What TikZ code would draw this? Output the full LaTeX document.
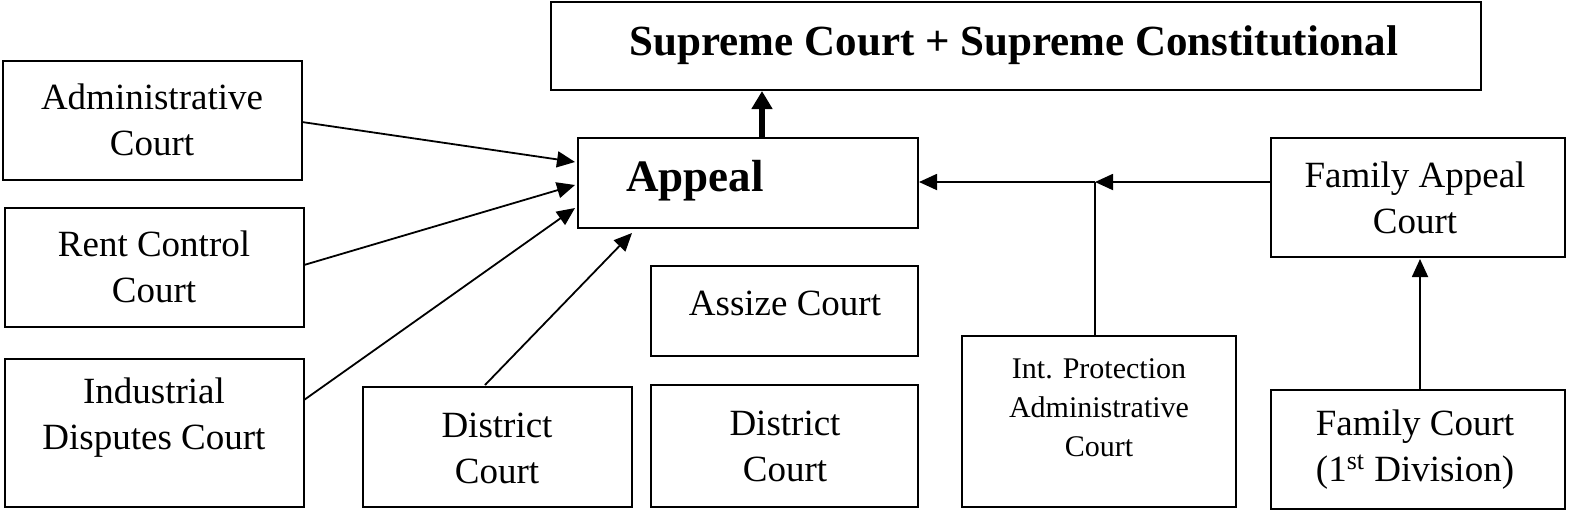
\documentclass[tikz,border=0pt]{standalone}
\usepackage{fontspec}
\setmainfont{Liberation Serif}
\usetikzlibrary{arrows.meta}
\begin{document}
\begin{tikzpicture}[x=0.5pt,y=-0.5pt,
 box/.style={draw,line width=0.8pt},
 txt/.style={align=center,font=\fontsize{18.5}{23}\selectfont},
 arr/.style={-{Triangle[length=9pt,width=8pt]},line width=0.9pt}]
\useasboundingbox (0,0) rectangle (1569,510);
\draw[box] (551,2) rectangle (1481,90);
\node[font=\bfseries\fontsize{21.5}{25}\selectfont] (sc) at (1014,45) {Supreme Court + Supreme Constitutional};
\draw[box] (3,61) rectangle (302,180);
\node[txt] (ad) at (152,120) {Administrative\\Court};
\draw[box] (5,208) rectangle (304,327);
\node[txt] (rc) at (154,267) {Rent Control\\Court};
\draw[box] (5,359) rectangle (304,507);
\node[txt] (id) at (154,418) {Industrial\\Disputes Court};
\draw[box] (578,138) rectangle (918,228);
\node[font=\bfseries\fontsize{22.5}{26}\selectfont] (ap) at (695,181) {Appeal};
\draw[box] (651,266) rectangle (918,356);
\node[txt] (as) at (785,303) {Assize Court};
\draw[box] (363,387) rectangle (632,507);
\node[txt] (d1) at (497,448) {District\\Court};
\draw[box] (651,385) rectangle (918,507);
\node[txt] (d2) at (785,446) {District\\Court};
\draw[box] (962,336) rectangle (1236,507);
\node[align=center,font=\fontsize{15}{19.5}\selectfont] (ip) at (1099,408) {Int. Protection\\Administrative\\Court};
\draw[box] (1271,138) rectangle (1565,257);
\node[txt] (fa) at (1415,198) {Family Appeal\\Court};
\draw[box] (1271,390) rectangle (1565,509);
\node[txt] (fc) at (1415,450) {Family Court\\(1\textsuperscript{st} Division)};
\coordinate (j) at (1095,182);
\draw[arr] (302,122) -- (575,162);
\draw[arr] (304,265) -- (575,185);
\draw[arr] (304,400) -- (575,208);
\draw[arr] (485,385) -- (632,233);
\draw[-{Triangle[length=9pt,width=10pt]},line width=3pt] (762,138) -- (762,91);
\draw[arr] (1271,182) -- (j);
\draw[arr] (1095,182) -- (919,182);
\draw[line width=0.9pt] (1095,336) -- (1095,182);
\draw[arr] (1420,390) -- (1420,259);
\end{tikzpicture}
\end{document}
